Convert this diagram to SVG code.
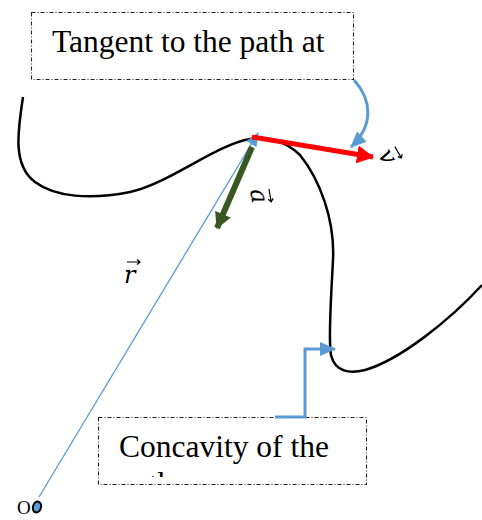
<svg xmlns="http://www.w3.org/2000/svg" width="482" height="520" viewBox="0 0 482 520">
<style>
.box{fill:#fff;stroke:#222;stroke-width:1.1;stroke-dasharray:4 2 1 2}
.lbl{font-family:"Liberation Serif","Times New Roman",serif;font-size:31.5px;fill:#000}
.vec{font-family:"DejaVu Serif","Liberation Serif",serif;font-style:italic;font-size:24px;fill:#000}
.varr{fill:none;stroke:#000;stroke-width:1.2}
.blue{fill:none;stroke:#5B9BD5}
</style>
<defs>
<marker id="bh" markerUnits="userSpaceOnUse" viewBox="0 0 14 12" refX="13" refY="6" markerWidth="14" markerHeight="12" orient="auto"><path d="M0,0 L14,6 L0,12 Z" fill="#5B9BD5"/></marker>
<marker id="bh2" markerUnits="userSpaceOnUse" viewBox="0 0 16 14" refX="15" refY="7" markerWidth="16" markerHeight="14" orient="auto"><path d="M0,0 L16,7 L0,14 Z" fill="#5B9BD5"/></marker>
<marker id="rh" markerUnits="userSpaceOnUse" viewBox="0 0 17 18" refX="16" refY="9" markerWidth="17" markerHeight="18" orient="auto"><path d="M0,0 L17,9 L0,18 Z" fill="#FF0000"/></marker>
<marker id="gh" markerUnits="userSpaceOnUse" viewBox="0 0 16 17" refX="15" refY="8.5" markerWidth="16" markerHeight="17" orient="auto"><path d="M0,0 L16,8.5 L0,17 Z" fill="#385723"/></marker>
<clipPath id="cb"><rect x="98" y="417" width="269" height="60"/></clipPath>
</defs>
<g id="path-curve">
<path d="M23,97 C18,130 12,165 35,182 C55,197 90,200 130,192 C170,183 215,145 250,139 C265,137 285,140 300,155 C320,180 335,220 333,260 C331,300 328,340 331,355 C335,372 350,374 365,370 C400,360 450,320 482,285" fill="none" stroke="#000" stroke-width="2.5"/>
</g>
<g id="box-tangent">
<rect class="box" x="31.5" y="12.5" width="322" height="67"/>
<text class="lbl" x="52" y="52">Tangent to the path at</text>
</g>
<g id="box-concavity">
<rect class="box" x="98.5" y="417.5" width="268" height="67"/>
<g clip-path="url(#cb)">
<text class="lbl" x="119" y="456.5">Concavity of the</text>
<text class="lbl" x="119" y="494">path</text>
</g>
</g>
<g id="origin">
<ellipse cx="37" cy="507" rx="4" ry="5.5" transform="rotate(15 37 507)" fill="#5B9BD5" stroke="#000" stroke-width="2"/>
<text x="17" y="514" font-family="Liberation Serif, serif" font-size="19">O</text>
</g>
<g id="connectors">
<line class="blue" x1="39" y1="497" x2="258" y2="133" stroke-width="1.3" marker-end="url(#bh)"/>
<line x1="252" y1="137" x2="373" y2="157" stroke="#FF0000" stroke-width="5" marker-end="url(#rh)"/>
<line x1="252" y1="147" x2="217" y2="228" stroke="#385723" stroke-width="6" marker-end="url(#gh)"/>
<path class="blue" d="M354,80 C372,100 374,125 351,147" stroke-width="3" marker-end="url(#bh2)"/>
<path class="blue" d="M275,417 H305 V349 H335" stroke-width="3" marker-end="url(#bh2)"/>
</g>
<g id="labels">
<g id="label-r">
<text class="vec" x="124" y="283">r</text>
<path class="varr" d="M127,262 H140 M137,259.5 L140,262 L137,264.5"/>
</g>
<g id="label-v" transform="translate(387,157) rotate(60)">
<text class="vec" x="-7" y="7">v</text>
<path class="varr" d="M-5,-12 H8 M5,-14.5 L8,-12 L5,-9.5"/>
</g>
<g id="label-a" transform="translate(258,196) rotate(80)">
<text class="vec" x="-7" y="7">a</text>
<path class="varr" d="M-5,-12 H8 M5,-14.5 L8,-12 L5,-9.5"/>
</g>
</g>
</svg>
